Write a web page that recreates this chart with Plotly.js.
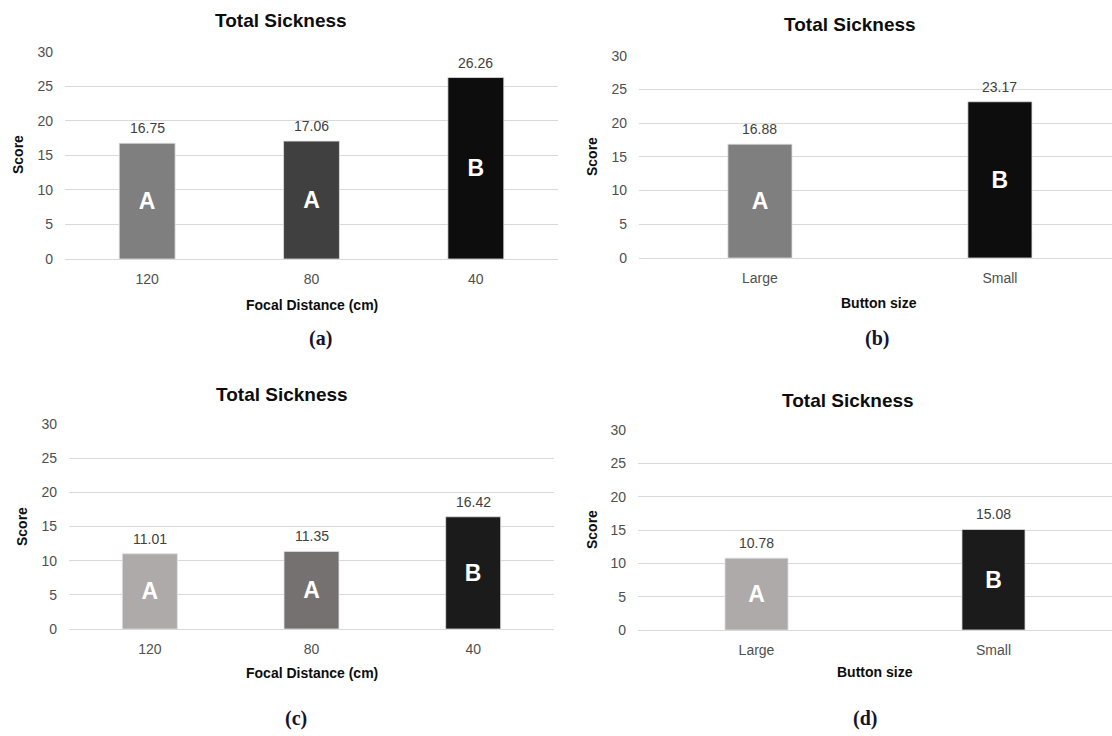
<!DOCTYPE html>
<html>
<head>
<meta charset="utf-8">
<script src="https://cdn.plot.ly/plotly-3.0.1.min.js"></script>
<style>html,body{margin:0;padding:0;background:#fff;}#chart{width:1112px;height:736px;}</style>
</head>
<body>
<div id="chart"></div>
<script>
// ---- data ----
const focalCats = ['120', '80', '40'];
const buttonCats = ['Large', 'Small'];
const valsA = [16.75, 17.06, 26.26];
const lettersA = ['A', 'A', 'B'];
const valsB = [16.88, 23.17];
const lettersB = ['A', 'B'];
const valsC = [11.01, 11.35, 16.42];
const lettersC = ['A', 'A', 'B'];
const valsD = [10.78, 15.08];
const lettersD = ['A', 'B'];
const chartTitle = 'Total Sickness';
const yTitle = 'Score';
const xTitleFocal = 'Focal Distance (cm)';
const xTitleButton = 'Button size';
const panelLabels = ['(a)', '(b)', '(c)', '(d)'];

// ---- styles ----
const colorsA = ['#7f7f7f', '#404040', '#0d0d0d'];
const colorsB = ['#7f7f7f', '#0d0d0d'];
const colorsC = ['#aeaaaa', '#767171', '#1b1b1b'];
const colorsD = ['#aeaaaa', '#1b1b1b'];

const W = 1112, H = 736;
const FONT = 'Liberation Sans, Arial, sans-serif';
const px = v => v / W;
const py = v => 1 - v / H;

const panels = [
  {cats: focalCats, vals: valsA, letters: lettersA, colors: colorsA, bw: 0.34,
   xd: [65, 558], yd: [51.7, 259], xr: [-0.5, 2.5],
   title: [281, 20], xt: [312, 305, xTitleFocal], sc: [18, 155], lab: [320, 338]},
  {cats: buttonCats, vals: valsB, letters: lettersB, colors: colorsB, bw: 0.267,
   xd: [639, 1112], yd: [55.7, 258], xr: [-0.504, 1.467],
   title: [850, 25], xt: [879, 303, xTitleButton], sc: [592, 157], lab: [877, 338]},
  {cats: focalCats, vals: valsC, letters: lettersC, colors: colorsC, bw: 0.34,
   xd: [69, 554], yd: [424, 629], xr: [-0.5, 2.5],
   title: [282, 394], xt: [312, 673, xTitleFocal], sc: [22, 527], lab: [296, 718]},
  {cats: buttonCats, vals: valsD, letters: lettersD, colors: colorsD, bw: 0.266,
   xd: [638, 1112], yd: [430, 630], xr: [-0.5, 1.5],
   title: [848, 400], xt: [875, 672, xTitleButton], sc: [592, 530], lab: [865, 718]}
];

const traces = [];
const annotations = [];
const layout = {
  width: W, height: H,
  margin: {l: 0, r: 0, t: 0, b: 0},
  paper_bgcolor: '#ffffff', plot_bgcolor: '#ffffff',
  showlegend: false,
  font: {family: FONT, color: '#595959', size: 14},
  annotations: annotations
};

panels.forEach((p, i) => {
  const n = i === 0 ? '' : String(i + 1);
  const xa = 'x' + n, ya = 'y' + n;
  traces.push({
    type: 'bar', x: p.cats, y: p.vals, xaxis: xa, yaxis: ya,
    width: p.bw,
    marker: {color: p.colors, line: {color: '#e0e0e0', width: 0.8}},
    text: p.letters, textposition: 'inside', insidetextanchor: 'middle',
    textangle: 0,
    insidetextfont: {family: FONT, size: 23, color: '#ffffff', weight: 'bold'},
    hoverinfo: 'skip'
  });
  layout['xaxis' + n] = {
    domain: [px(p.xd[0]), px(p.xd[1])], anchor: ya,
    type: 'category', range: p.xr, showgrid: false, zeroline: false,
    showline: false, ticks: '', ticklabelstandoff: 10,
    tickfont: {family: FONT, size: 14, color: '#4f4f4f'}, fixedrange: true
  };
  layout['yaxis' + n] = {
    domain: [py(p.yd[1]), py(p.yd[0])], anchor: xa,
    range: [0, 30], dtick: 5, tick0: 0, showgrid: true, gridcolor: '#d9d9d9', gridwidth: 1,
    zeroline: true, zerolinecolor: '#d9d9d9', zerolinewidth: 1,
    showline: false, ticks: '', ticklabelstandoff: 11,
    tickfont: {family: FONT, size: 14, color: '#4f4f4f'}, fixedrange: true
  };
  // value labels above bars (x given as category index)
  p.vals.forEach((v, k) => {
    annotations.push({
      xref: xa, yref: ya, x: k, y: v, text: v.toFixed(2),
      showarrow: false, yanchor: 'bottom', yshift: 5,
      font: {family: FONT, size: 14, color: '#404040'}
    });
  });
  // panel title
  annotations.push({xref: 'paper', yref: 'paper', x: px(p.title[0]), y: py(p.title[1]),
    xanchor: 'center', yanchor: 'middle', showarrow: false, text: '<b>' + chartTitle + '</b>',
    font: {family: FONT, size: 19, color: '#0d0d0d'}});
  // x axis title
  annotations.push({xref: 'paper', yref: 'paper', x: px(p.xt[0]), y: py(p.xt[1]),
    xanchor: 'center', yanchor: 'middle', showarrow: false, text: '<b>' + p.xt[2] + '</b>',
    font: {family: FONT, size: 14, color: '#0d0d0d'}});
  // y axis title
  annotations.push({xref: 'paper', yref: 'paper', x: px(p.sc[0]), y: py(p.sc[1]),
    xanchor: 'center', yanchor: 'middle', showarrow: false, textangle: -90, text: '<b>' + yTitle + '</b>',
    font: {family: FONT, size: 14, color: '#0d0d0d'}});
  // panel letter
  annotations.push({xref: 'paper', yref: 'paper', x: px(p.lab[0]), y: py(p.lab[1]),
    xanchor: 'center', yanchor: 'middle', showarrow: false, text: '<b>' + panelLabels[i] + '</b>',
    font: {family: 'Liberation Serif, Times New Roman, serif', size: 20, color: '#141430'}});
});

Plotly.newPlot('chart', traces, layout, {displayModeBar: false, staticPlot: true});
</script>
</body>
</html>
